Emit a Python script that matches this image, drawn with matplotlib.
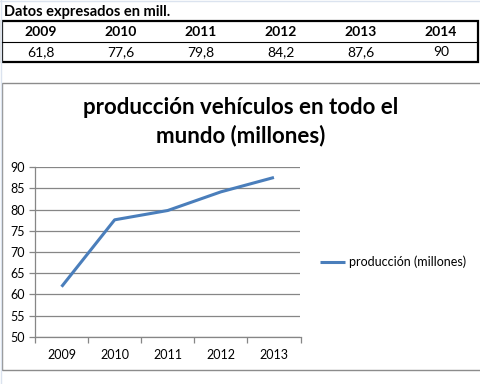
import matplotlib
matplotlib.use("Agg")
import matplotlib.pyplot as plt
from matplotlib.lines import Line2D
from matplotlib.patches import Rectangle

plt.rcParams['font.family'] = ['Lato', 'DejaVu Sans']

table_years = ["2009", "2010", "2011", "2012", "2013", "2014"]
table_values = ["61,8", "77,6", "79,8", "84,2", "87,6", "90"]
chart_years = ["2009", "2010", "2011", "2012", "2013"]
chart_values = [61.8, 77.6, 79.8, 84.2, 87.6]

W, H = 481, 384
fig = plt.figure(figsize=(W / 100, H / 100), dpi=100)
fig.patch.set_facecolor("white")

def fx(x):
    return x / W

def fy(y):
    return 1 - y / H

# faint gridline edges of the sheet
fig.add_artist(Line2D([0, 1], [fy(0.5), fy(0.5)], transform=fig.transFigure,
                      color="#dbe3ef", linewidth=1.0))
fig.add_artist(Line2D([fx(0.5), fx(0.5)], [0, 1], transform=fig.transFigure,
                      color="#dbe3ef", linewidth=1.0))

# Header text
fig.text(fx(4), fy(12), "Datos expresados en mill.", fontsize=10.5, fontweight="bold",
         va="center", ha="left", color="black")

# Table border
fig.add_artist(Rectangle((fx(1.5), fy(62)), fx(477), (62 - 21) / H, transform=fig.transFigure,
                         fill=False, edgecolor="black", linewidth=1.6))
fig.add_artist(Line2D([fx(1.5), fx(478.5)], [fy(42), fy(42)], transform=fig.transFigure,
                      color="black", linewidth=0.8))
col_centers = [41 + 80 * i for i in range(len(table_years))]
for cx, yr, v in zip(col_centers, table_years, table_values):
    fig.text(fx(cx), fy(31.5), yr, fontsize=10, fontweight="bold", ha="center", va="center")
    fig.text(fx(cx), fy(52), v, fontsize=10, ha="center", va="center")

# Chart box
fig.add_artist(Rectangle((fx(1.5), fy(370)), fx(490), (370 - 82.5) / H, transform=fig.transFigure,
                         fill=False, edgecolor="#8c8c8c", linewidth=1.0))

# Title
fig.text(fx(241), fy(107), "producción vehículos en todo el", fontsize=16, fontweight="bold",
         ha="center", va="center")
fig.text(fx(241), fy(136), "mundo (millones)", fontsize=16, fontweight="bold",
         ha="center", va="center")

# Plot area
x0, x1 = 35, 300.5
y0, y1 = 167.3, 336.7
ax = fig.add_axes([fx(x0), fy(y1), (x1 - x0) / W, (y1 - y0) / H])
ax.set_facecolor("none")
xs = list(range(len(chart_years)))
line, = ax.plot(xs, chart_values, color="#4a7ebb", linewidth=2.2,
                solid_capstyle="butt", label="producción (millones)")
ax.set_xlim(-0.5, len(chart_years) - 0.5)
ax.set_ylim(50, 90)
ax.set_yticks(range(50, 91, 5))
ax.yaxis.grid(True, color="#868686", linewidth=0.9)
ax.set_axisbelow(True)
ax.set_xticks([i - 0.5 for i in range(len(chart_years) + 1)])
ax.set_xticklabels([])
ax.set_xticks(xs, minor=True)
ax.set_xticklabels(chart_years, minor=True)
ax.tick_params(axis="x", which="major", direction="out", length=4, color="#868686", width=0.9)
ax.tick_params(axis="x", which="minor", length=0, pad=9, labelsize=9)
ax.tick_params(axis="y", direction="out", length=4, color="#868686", width=0.9, labelsize=9, pad=3)
for s in ["top", "right"]:
    ax.spines[s].set_visible(False)
for s in ["left", "bottom"]:
    ax.spines[s].set_color("#868686")
    ax.spines[s].set_linewidth(0.9)

# Legend
fig.legend(handles=[line], labels=["producción (millones)"], loc="center left",
           bbox_to_anchor=(fx(320), fy(262)), frameon=False, fontsize=9,
           handlelength=2.0, handletextpad=0.3, borderaxespad=0, borderpad=0)

fig.savefig("out.png", dpi=100, facecolor="white")
